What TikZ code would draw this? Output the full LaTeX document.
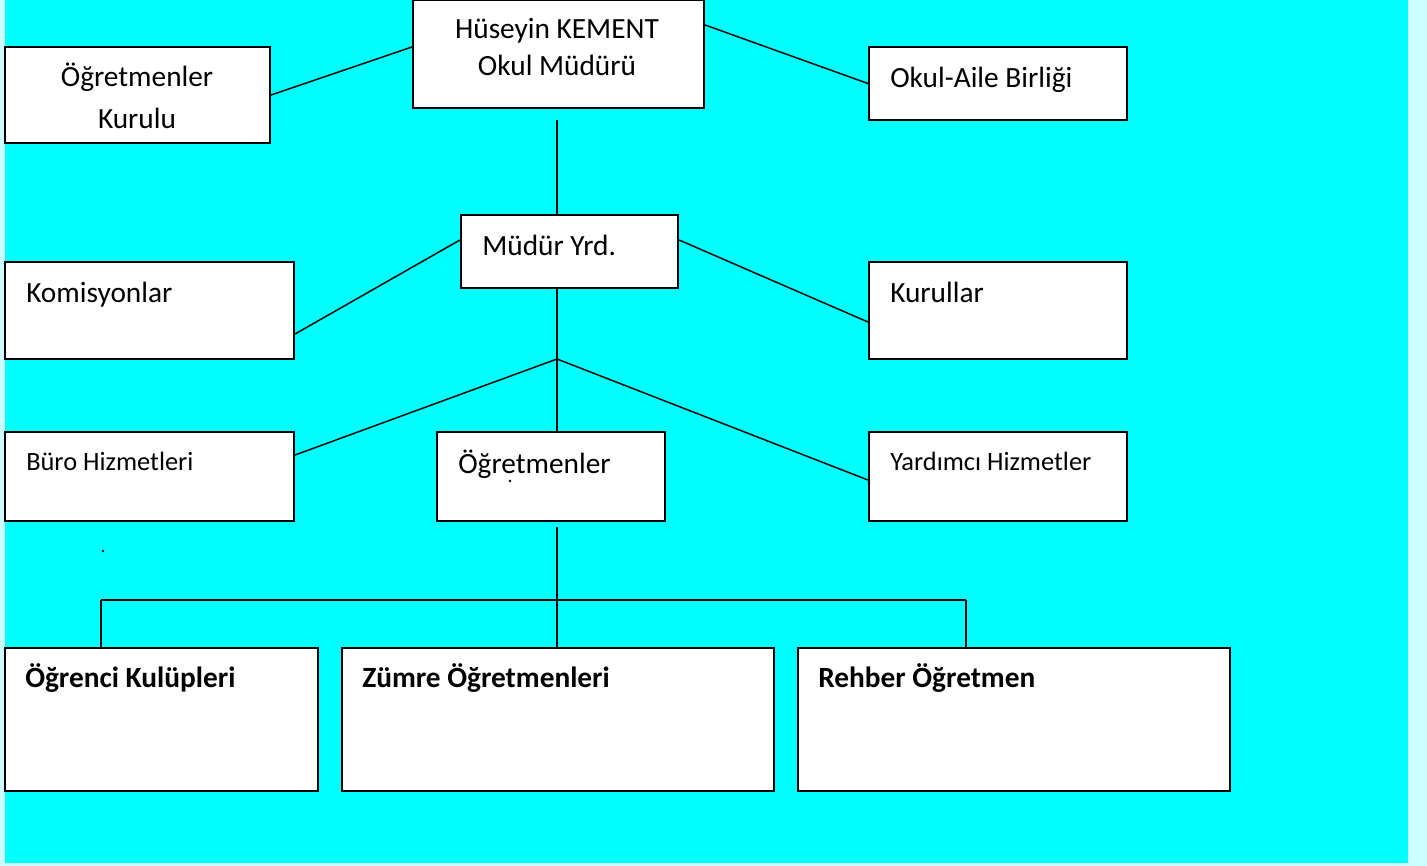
\documentclass[tikz,border=0pt]{standalone}
\usepackage{fontspec}
\setmainfont{Carlito}
\usetikzlibrary{calc}
\definecolor{bgcyan}{RGB}{0,255,255}
\definecolor{outer}{RGB}{204,255,255}
\tikzset{
  box/.style={draw=black, line width=1.6pt, fill=white, rectangle, inner sep=0pt},
  conn/.style={draw=black, line width=1.1pt},
  txt/.style={inner sep=0pt, font=\fontsize{22}{27}\selectfont},
  smalltxt/.style={inner sep=0pt, font=\fontsize{19.8}{24}\selectfont},
  boldtxt/.style={inner sep=0pt, font=\fontsize{22}{27}\selectfont\bfseries},
}
\newcommand{\pbox}[5]{% name, x1, y1, x2, y2
  \node[box, minimum width={(#4-#2)*0.75pt}, minimum height={(#5-#3)*0.75pt}] (#1) at ({(#2+#4)/2},{(#3+#5)/2}) {};}
\begin{document}
\begin{tikzpicture}[x=0.75pt,y=-0.75pt]
\fill[outer] (0,0) rectangle (1427,866);
\fill[bgcyan] (5,0) rectangle (1408,863);
\useasboundingbox (0,0) rectangle (1427,866);

% boxes
\pbox{mudur}{413}{0}{704}{108}
\pbox{kurulu}{5}{47}{270}{143}
\pbox{aile}{869}{47}{1127}{120}
\pbox{yrd}{461}{215}{678}{288}
\pbox{komis}{5}{262}{294}{359}
\pbox{kurullar}{869}{262}{1127}{359}
\pbox{buro}{5}{432}{294}{521}
\pbox{ogret}{437}{432}{665}{521}
\pbox{yardimci}{869}{432}{1127}{521}
\pbox{kulup}{5}{648}{318}{791}
\pbox{zumre}{342}{648}{774}{791}
\pbox{rehber}{798}{648}{1230}{791}

% texts
\node[txt, anchor=base] (t1a) at (557,39) {Hüseyin KEMENT};
\node[txt, anchor=base] (t1b) at (557,76) {Okul Müdürü};
\node[txt, anchor=base] (t2a) at (137,87) {Öğretmenler};
\node[txt, anchor=base] (t2b) at (137,129) {Kurulu};
\node[txt, anchor=base west] (t3) at (890,88) {Okul-Aile Birliği};
\node[txt, anchor=base west] (t4) at (482,256) {Müdür Yrd.};
\node[txt, anchor=base west] (t5) at (26,302) {Komisyonlar};
\node[txt, anchor=base west] (t6) at (890,302) {Kurullar};
\node[smalltxt, anchor=base west] (t7) at (26,470) {Büro Hizmetleri};
\node[txt, anchor=base west] (t8) at (458,473) {Öğretmenler};
\node[smalltxt, anchor=base west] (t9) at (890,470) {Yardımcı Hizmetler};
\node[boldtxt, anchor=base west] (t10) at (25,687) {Öğrenci Kulüpleri};
\node[boldtxt, anchor=base west] (t11) at (362,687) {Zümre Öğretmenleri};
\node[boldtxt, anchor=base west] (t12) at (818,687) {Rehber Öğretmen};

% coordinates
\coordinate (m1) at (557,120);
\coordinate (j1) at (557,359);
\coordinate (m2) at (557,527);
\coordinate (hl) at (101,600);
\coordinate (hr) at (966,600);

% connectors
\draw[conn] (kurulu.east) -- ($(mudur.west)+(0,-7)$);
\draw[conn] ($(mudur.east)+(0,-29)$) -- (aile.west);
\draw[conn] (m1) -- (m1 |- yrd.north);
\draw[conn] ($(yrd.west)+(0,-11.5)$) -- ($(komis.east)+(0,23.5)$);
\draw[conn] ($(yrd.east)+(0,-11.5)$) -- ($(kurullar.west)+(0,11.5)$);
\draw[conn] (j1 |- yrd.south) -- (j1 |- ogret.north);
\draw[conn] (j1) -- ($(buro.east)+(0,-21.5)$);
\draw[conn] (j1) -- ($(yardimci.west)+(0,3.5)$);
\draw[conn] (m2) -- (m2 |- zumre.north);
\draw[conn] (hl) -- (hr);
\draw[conn] (hl) -- (hl |- kulup.north);
\draw[conn] (hr) -- (hr |- rehber.north);

% small dots
\fill (103,551) circle (1pt);
\fill (510,481) circle (1pt);
\end{tikzpicture}
\end{document}
